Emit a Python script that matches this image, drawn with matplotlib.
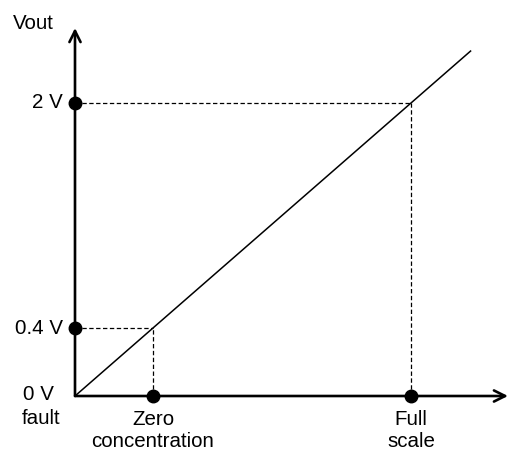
import numpy as np
import matplotlib as mpl
mpl.use('Agg')
from matplotlib import pyplot as plt

plt.rcParams['font.family'] = ['Liberation Sans', 'DejaVu Sans']

# schematic sensor transfer curve: x = fraction of full scale, y = volts (drawn)
vfull = 2.0
x_marks = [0.232, 1.0]          # zero concentration, full scale
x_labels = ['Zero\nconcentration', 'Full\nscale']
y_labels = ['0.4 V', '2 V']
line_end = 1.179

# pixel geometry of the original picture (origin at 75, 396)
px_x = 336.0    # pixels per unit x
px_y = 146.5    # pixels per volt
ox, oy = 75.0, 396.0
W, H = 511, 451

fig = plt.figure(figsize=(W / 100.0, H / 100.0), dpi=100)
ax = fig.add_axes([0, 0, 1, 1])
ax.set_xlim(-ox / px_x, (W - ox) / px_x)
ax.set_ylim(-(H - oy) / px_y, oy / px_y)
ax.axis('off')

# axes with arrow heads
ax.annotate('', xy=(0, (oy - 28) / px_y), xytext=(0, 0),
            arrowprops=dict(arrowstyle='->', lw=1.9, color='black',
                            mutation_scale=20, shrinkA=0, shrinkB=0))
ax.annotate('', xy=((508 - ox) / px_x, 0), xytext=(0, 0),
            arrowprops=dict(arrowstyle='->', lw=1.9, color='black',
                            mutation_scale=20, shrinkA=0, shrinkB=0))

# transfer line through origin
xs = np.array([0, line_end])
ax.plot(xs, vfull * xs, color='black', lw=1.1, solid_capstyle='butt')

ys = [vfull * x for x in x_marks]
for x, y in zip(x_marks, ys):
    ax.plot([0, x], [y, y], color='black', lw=0.9, ls=(0, (3.5, 2)))
    ax.plot([x, x], [0, y], color='black', lw=0.9, ls=(0, (3.5, 2)))
    ax.plot([0], [y], 'o', color='black', ms=9, zorder=5)
    ax.plot([x], [0], 'o', color='black', ms=9, zorder=5)

fs = 14.8
dx = 1.0 / px_x
dy = 1.0 / px_y
for y, lab in zip(ys, y_labels):
    ax.text(-12 * dx, y, lab, ha='right', va='center', fontsize=fs)
for x, lab in zip(x_marks, x_labels):
    ax.text(x, -14 * dy, lab, ha='center', va='top', fontsize=fs, linespacing=1.2)

ax.text(-37 * dx, 2 * dy, '0 V', ha='center', va='center', fontsize=fs)
ax.text(-34 * dx, -23 * dy, 'fault', ha='center', va='center', fontsize=fs)
ax.text(-42 * dx, (oy - 24) / px_y, 'Vout', ha='center', va='center', fontsize=fs)

fig.savefig('out.png', dpi=100)
